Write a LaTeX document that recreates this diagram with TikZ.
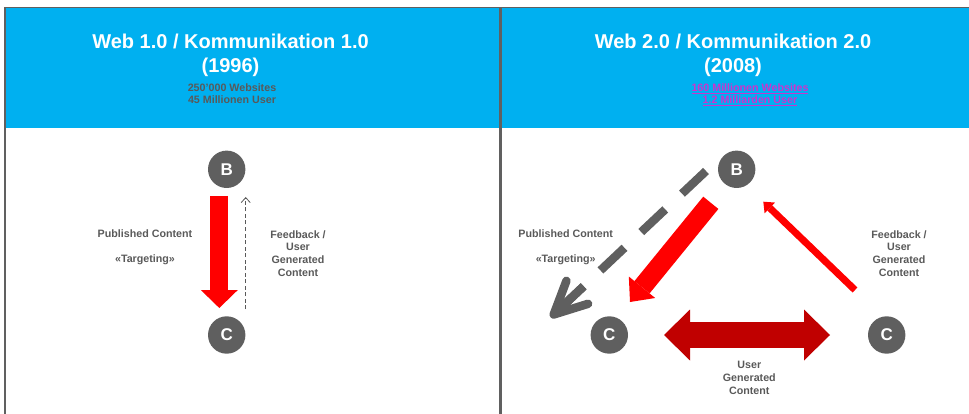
\documentclass[tikz,border=0pt]{standalone}
\usepackage{fontspec}
\setmainfont{Liberation Sans}
\usetikzlibrary{arrows.meta,calc}
\definecolor{bandblue}{HTML}{00B0F0}
\definecolor{framegray}{HTML}{606060}
\definecolor{circgray}{HTML}{5F5F5F}
\definecolor{txtgray}{HTML}{595959}
\definecolor{magentalink}{RGB}{204,51,204}
\definecolor{darkred}{HTML}{C00000}
\definecolor{pured}{HTML}{FF0000}
\begin{document}
\begin{tikzpicture}[x=1pt,y=-1pt,
  titletext/.style={font=\fontsize{20}{24}\selectfont\bfseries, text=white, inner sep=0pt, anchor=base},
  subtext/.style={font=\fontsize{10.7}{11.7}\selectfont\bfseries, text=txtgray, inner sep=0pt, anchor=base},
  linktext/.style={font=\fontsize{10.7}{11.7}\selectfont\bfseries, text=magentalink, inner sep=0pt, anchor=base},
  lbl/.style={font=\fontsize{10.7}{12.7}\selectfont\bfseries, text=txtgray, inner sep=0pt, align=center},
  party/.style={circle, fill=circgray, minimum size=37.4pt, inner sep=0pt, text=white, font=\fontsize{17}{17}\selectfont\bfseries},
  blockarrow/.style={line cap=butt},
]
\useasboundingbox (0,0) rectangle (969,414);
% panels
\fill[bandblue] (5,7.5) rectangle (969,128);
\draw[framegray, line width=1.5pt] (5,414) -- (5,7.5) -- (969,7.5);
\draw[framegray, line width=3pt] (500,7.5) -- (500,414);

% titles
\node[titletext] (t1a) at (230.5,48.3) {Web 1.0 / Kommunikation 1.0};
\node[titletext] (t1b) at (230.5,72.5) {(1996)};
\node[subtext] (s1a) at (232,91.7) {250’000 Websites};
\node[subtext] (s1b) at (232,103.3) {45 Millionen User};
\node[titletext] (t2a) at (733,48.3) {Web 2.0 / Kommunikation 2.0};
\node[titletext] (t2b) at (733,72.5) {(2008)};
\node[linktext] (s2a) at (750,91.7) {\underline{160 Millionen Websites}};
\node[linktext] (s2b) at (750,103.3) {\underline{1.2 Milliarden User}};

% left diagram
\node[party] (B1) at (226.7,169.3) {B};
\node[party] (C1) at (226.7,335) {C};
\coordinate (a1s) at (219.3,196);
\coordinate (a1e) at (219.3,308);
\draw[pured, blockarrow, line width=18.3pt, -{Triangle[length=18pt,width=37pt,line width=0pt]}] (a1s) -- (a1e);
\coordinate (f1s) at (245.7,309);
\coordinate (f1e) at (245.7,197);
\draw[txtgray, line width=0.8pt, dash pattern=on 4pt off 2.5pt, -{Straight Barb[length=5pt,width=9pt,line width=0.8pt]}] (f1s) -- (f1e);
\node[lbl, anchor=base] (pc1) at (145,237.7) {Published Content};
\node[lbl, anchor=base] (tg1) at (145,262.7) {«Targeting»};
\node[lbl, anchor=north] (fb1) at (298,230.2) {Feedback /\\User\\Generated\\Content};

% right diagram
\node[party] (B2) at (736.7,169.3) {B};
\node[party] (C2) at (609.3,335) {C};
\node[party] (C3) at (886.7,335) {C};
\coordinate (r1s) at (710.8,202.8);
\coordinate (r1e) at (630,302);
\draw[pured, blockarrow, line width=19.5pt, -{Triangle[length=19pt,width=34pt,line width=0pt]}] (r1s) -- (r1e);
\coordinate (r2s) at (855,290);
\coordinate (r2e) at (763.3,201.7);
\draw[pured, blockarrow, line width=7pt, -{Triangle[length=9pt,width=15pt,line width=0pt]}] (r2s) -- (r2e);
\coordinate (d1) at (664,335);
\coordinate (d2) at (830,335);
\draw[darkred, blockarrow, line width=26.6pt, {Triangle[length=26pt,width=51pt,line width=0pt]}-{Triangle[length=26pt,width=51pt,line width=0pt]}] (d1) -- (d2);
% gray dashed arrow
\coordinate (g1s) at (706,171);
\coordinate (g1e) at (553.7,314.5);
\draw[circgray, line width=8.5pt, line cap=butt, dash pattern=on 33pt off 23pt] (g1s) -- (g1e);
\draw[circgray, line width=8.5pt, line cap=butt] (g1e) -- ($(g1e)!41pt!(g1s)$);
\draw[circgray, line width=8.5pt, line cap=round, line join=round] ($(g1e)!36pt!26:(g1s)$) -- (g1e) -- ($(g1e)!36pt!-26:(g1s)$);
\node[lbl, anchor=base] (pc2) at (565.7,237.7) {Published Content};
\node[lbl, anchor=base] (tg2) at (565.7,262.7) {«Targeting»};
\node[lbl, anchor=north] (fb2) at (899,230.2) {Feedback /\\User\\Generated\\Content};
\node[lbl, anchor=north] (ugc) at (749.3,361.2) {User\\Generated\\Content};
\end{tikzpicture}
\end{document}
